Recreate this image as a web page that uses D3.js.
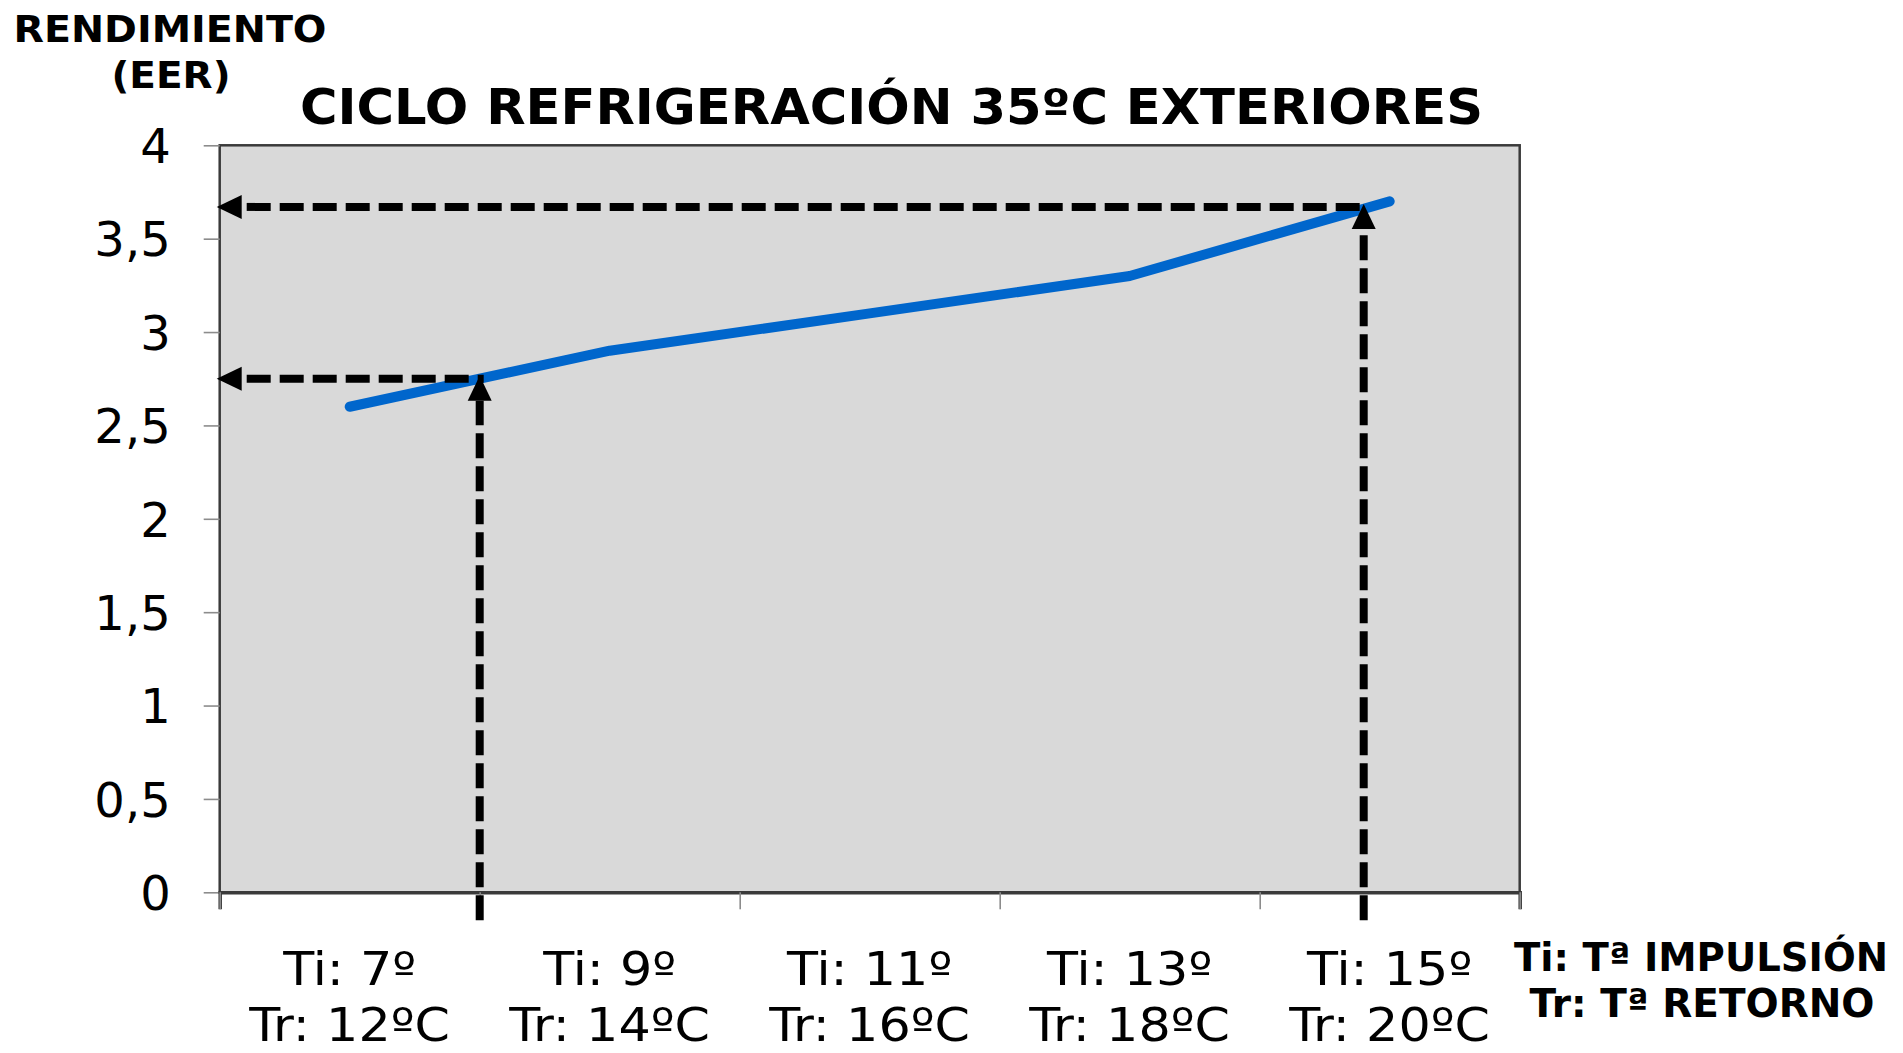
<!DOCTYPE html>
<html>
<head>
<meta charset="utf-8">
<script src="https://cdn.jsdelivr.net/npm/d3@7"></script>
<style>
  html, body { margin: 0; padding: 0; background: #ffffff; }
  svg { display: block; }
  text { font-family: "DejaVu Sans", Verdana, sans-serif; fill: #000; }
</style>
</head>
<body>
<svg id="chart" width="1903" height="1053"></svg>
<script>
// ---- data ----
const categoriesTi = ["Ti: 7º", "Ti: 9º", "Ti: 11º", "Ti: 13º", "Ti: 15º"];
const categoriesTr = ["Tr: 12ºC", "Tr: 14ºC", "Tr: 16ºC", "Tr: 18ºC", "Tr: 20ºC"];
const eerValues = [2.6, 2.9, 3.1, 3.3, 3.7];
const yTickValues = [0, 0.5, 1, 1.5, 2, 2.5, 3, 3.5, 4];
const yTickLabels = ["0", "0,5", "1", "1,5", "2", "2,5", "3", "3,5", "4"];
// annotation points: position along category axis (category index units) and EER value
const annotationPositions = [0.5, 3.9];
const annotationValues = [2.75, 3.67];
const titleText = "CICLO REFRIGERACIÓN 35ºC EXTERIORES";
const yTitleLines = ["RENDIMIENTO", "(EER)"];
const legendLines = ["Ti: Tª IMPULSIÓN", "Tr: Tª RETORNO"];

// ---- layout ----
const plot = { left: 219.7, right: 1519.7, top: 145.3, bottom: 892.3 };
const svg = d3.select("#chart");

const x = d3.scaleLinear().domain([-0.5, categoriesTi.length - 0.5]).range([plot.left, plot.right]);
const y = d3.scaleLinear().domain([0, 4]).range([plot.bottom, plot.top]);

// plot background
svg.append("rect")
  .attr("x", plot.left).attr("y", plot.top)
  .attr("width", plot.right - plot.left).attr("height", plot.bottom - plot.top)
  .attr("fill", "#d9d9d9")
  .attr("stroke", "#3a3a3a").attr("stroke-width", 2.5);

// y axis
const yAxis = svg.append("g")
  .attr("transform", `translate(${plot.left},0)`)
  .call(d3.axisLeft(y).tickValues(yTickValues).tickSize(16).tickPadding(33)
    .tickFormat((d, i) => yTickLabels[i]));
yAxis.select(".domain").remove();
yAxis.selectAll(".tick line").attr("stroke", "#8c8c8c").attr("stroke-width", 1.6);
yAxis.selectAll(".tick text")
  .style("font-family", "'DejaVu Sans', Verdana, sans-serif")
  .style("font-size", "48px").attr("fill", "#000").attr("dy", "0.36em");

// x axis (ticks at category boundaries)
const boundaries = d3.range(categoriesTi.length + 1).map(i => i - 0.5);
const xAxis = svg.append("g")
  .attr("transform", `translate(0,${plot.bottom})`)
  .call(d3.axisBottom(x).tickValues(boundaries).tickSize(17).tickFormat(""));
xAxis.select(".domain").attr("stroke", "#3a3a3a").attr("stroke-width", 3.5);
xAxis.selectAll(".tick line").attr("stroke", "#8c8c8c").attr("stroke-width", 1.6);

// category labels (two lines each)
const catG = svg.append("g");
function catLabel(txt, cx, baseline) {
  const t = catG.append("text").attr("x", cx).attr("y", baseline)
    .attr("text-anchor", "middle").style("font-size", "47px").text(txt);
  const w = t.node().getComputedTextLength();
  t.attr("textLength", w * 1.08).attr("lengthAdjust", "spacingAndGlyphs");
}
categoriesTi.forEach((t, i) => {
  catLabel(t, x(i), 985);
  catLabel(categoriesTr[i], x(i), 1041);
});

// EER line
const line = d3.line().x((d, i) => x(i)).y(d => y(d));
svg.append("path")
  .datum(eerValues)
  .attr("d", line)
  .attr("fill", "none")
  .attr("stroke", "#0066cc")
  .attr("stroke-width", 10)
  .attr("stroke-linecap", "round")
  .attr("stroke-linejoin", "round");

// annotations: dashed arrows
const annG = svg.append("g");
const headLen = 25, headHalf = 12;
annotationPositions.forEach((p, i) => {
  const px = x(p), py = y(annotationValues[i]);
  // horizontal dashed line to y axis
  const hTip = plot.left - 3;
  annG.append("line")
    .attr("x1", hTip + headLen + 5).attr("y1", py)
    .attr("x2", px + 4).attr("y2", py)
    .attr("stroke", "#000").attr("stroke-width", 8)
    .attr("stroke-dasharray", "24 9");
  annG.append("path")
    .attr("d", `M${hTip},${py} L${hTip + headLen},${py - headHalf} L${hTip + headLen},${py + headHalf} Z`)
    .attr("fill", "#000");
  // vertical dashed line from below the axis up to the point
  const vTip = py - 3;
  annG.append("line")
    .attr("x1", px).attr("y1", plot.bottom + 28)
    .attr("x2", px).attr("y2", vTip + headLen)
    .attr("stroke", "#000").attr("stroke-width", 8)
    .attr("stroke-dasharray", "25 8");
  annG.append("path")
    .attr("d", `M${px},${vTip} L${px - headHalf},${vTip + headLen} L${px + headHalf},${vTip + headLen} Z`)
    .attr("fill", "#000");
});

// title
svg.append("text")
  .attr("x", 891.5).attr("y", 124)
  .attr("text-anchor", "middle")
  .attr("textLength", 1183).attr("lengthAdjust", "spacingAndGlyphs")
  .style("font-size", "49px").style("font-weight", "bold")
  .text(titleText);

// y axis title
svg.append("text").attr("x", 170).attr("y", 42).attr("text-anchor", "middle")
  .attr("textLength", 313).attr("lengthAdjust", "spacingAndGlyphs")
  .style("font-size", "37px").style("font-weight", "bold").text(yTitleLines[0]);
svg.append("text").attr("x", 171).attr("y", 88).attr("text-anchor", "middle")
  .attr("textLength", 119).attr("lengthAdjust", "spacingAndGlyphs")
  .style("font-size", "38px").style("font-weight", "bold").text(yTitleLines[1]);

// legend note (bottom right)
svg.append("text").attr("x", 1701).attr("y", 971).attr("text-anchor", "middle")
  .attr("textLength", 374).attr("lengthAdjust", "spacingAndGlyphs")
  .style("font-size", "39px").style("font-weight", "bold").text(legendLines[0]);
svg.append("text").attr("x", 1702).attr("y", 1017).attr("text-anchor", "middle")
  .attr("textLength", 345).attr("lengthAdjust", "spacingAndGlyphs")
  .style("font-size", "39px").style("font-weight", "bold").text(legendLines[1]);
</script>
</body>
</html>
